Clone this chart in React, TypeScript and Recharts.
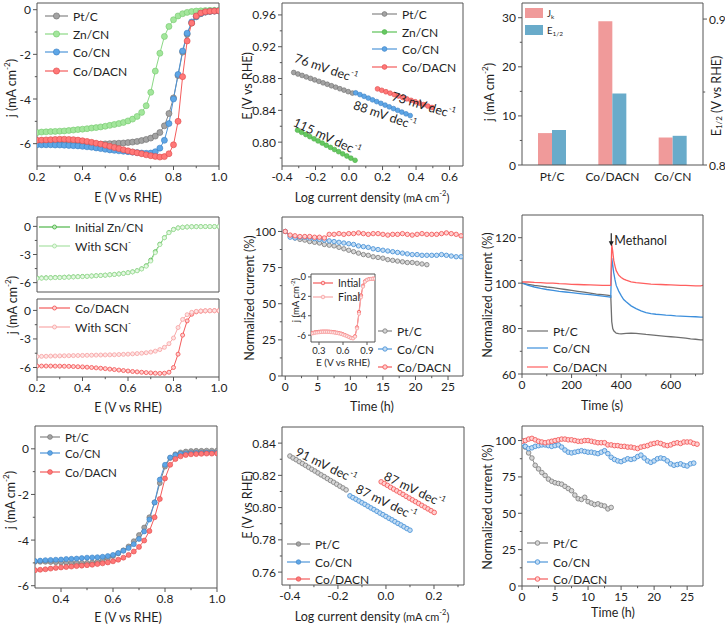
import React from 'react';
import { LineChart, Line, XAxis, YAxis, BarChart, Bar, ReferenceDot } from 'recharts';

const FONT = 'Lato, "Open Sans", Arial, sans-serif';
const INK = '#1f1f1f';
const FRAME = '#555';

// ---------- data ----------
// LSV potential grid (V vs RHE)
const E_GRID = [0.2, 0.22, 0.24, 0.26, 0.28, 0.3, 0.32, 0.34, 0.36, 0.38, 0.4, 0.42, 0.44, 0.46, 0.48, 0.5, 0.52, 0.54, 0.56, 0.58, 0.6, 0.62, 0.64, 0.66, 0.68, 0.7, 0.72, 0.74, 0.76, 0.78, 0.8, 0.82, 0.84, 0.86, 0.88, 0.9, 0.92, 0.94, 0.96, 0.98, 1.0];

// panel a: ORR LSV (mA cm-2)
const A_PTC = [-6.02, -6.02, -6.02, -6.02, -6.02, -6.02, -6.02, -6.02, -6.02, -6.02, -6.02, -6.02, -6.02, -6.02, -6.02, -6.01, -6.0, -5.99, -5.98, -5.97, -5.95, -5.93, -5.9, -5.86, -5.81, -5.75, -5.66, -5.5, -5.2, -4.65, -3.95, -2.95, -1.9, -1.1, -0.6, -0.32, -0.18, -0.11, -0.08, -0.06, -0.05];
const A_ZNCN = [-5.5, -5.48, -5.47, -5.46, -5.45, -5.44, -5.43, -5.41, -5.39, -5.37, -5.35, -5.33, -5.3, -5.28, -5.25, -5.22, -5.18, -5.14, -5.1, -5.05, -4.98, -4.9, -4.78, -4.6, -4.3, -3.7, -2.75, -1.95, -1.2, -0.75, -0.45, -0.28, -0.18, -0.12, -0.08, -0.06, -0.05, -0.04, -0.03, -0.03, -0.03];
const A_COCN = [-6.05, -6.05, -6.05, -6.05, -6.06, -6.06, -6.07, -6.08, -6.09, -6.1, -6.12, -6.14, -6.16, -6.19, -6.22, -6.25, -6.28, -6.3, -6.32, -6.34, -6.36, -6.38, -6.4, -6.42, -6.43, -6.42, -6.36, -6.2, -5.85, -5.1, -4.0, -2.9, -1.85, -1.05, -0.55, -0.3, -0.17, -0.1, -0.07, -0.06, -0.05];
const A_CODACN = [-5.85, -5.84, -5.83, -5.82, -5.81, -5.8, -5.8, -5.81, -5.82, -5.84, -5.87, -5.9, -5.94, -5.98, -6.02, -6.07, -6.12, -6.17, -6.22, -6.27, -6.32, -6.37, -6.41, -6.45, -6.5, -6.54, -6.57, -6.6, -6.58, -6.45, -6.05, -5.0, -3.0, -1.4, -0.6, -0.28, -0.15, -0.09, -0.07, -0.06, -0.05];

// panel b: Tafel (log j, E)
const B_PTC_X = [-0.33, -0.305, -0.28, -0.255, -0.23, -0.205, -0.18, -0.155, -0.13, -0.105, -0.08, -0.055, -0.03, -0.005, 0.02];
const B_PTC_Y = [0.8876, 0.8857, 0.8839, 0.882, 0.8802, 0.8783, 0.8765, 0.8746, 0.8728, 0.8709, 0.8691, 0.8672, 0.8654, 0.8635, 0.8617];
const B_ZN_X = [-0.307, -0.283, -0.258, -0.234, -0.209, -0.185, -0.16, -0.136, -0.111, -0.087, -0.062, -0.038, -0.013, 0.011, 0.036];
const B_ZN_Y = [0.815, 0.8123, 0.8096, 0.8069, 0.8042, 0.8015, 0.7988, 0.7961, 0.7934, 0.7907, 0.788, 0.7853, 0.7826, 0.7799, 0.7772];
const B_CO_X = [0.04, 0.065, 0.09, 0.115, 0.14, 0.165, 0.19, 0.215, 0.24, 0.265, 0.29, 0.315, 0.34, 0.365];
const B_CO_Y = [0.862, 0.8598, 0.8576, 0.8554, 0.8532, 0.851, 0.8488, 0.8466, 0.8444, 0.8422, 0.84, 0.8378, 0.8356, 0.8334];
const B_DA_X = [0.17, 0.195, 0.22, 0.245, 0.27, 0.295, 0.32, 0.345, 0.37, 0.395, 0.42, 0.445, 0.47, 0.495];
const B_DA_Y = [0.867, 0.8652, 0.8634, 0.8616, 0.8598, 0.858, 0.8562, 0.8544, 0.8526, 0.8508, 0.849, 0.8472, 0.8454, 0.8436];
const B_SLOPES = ['76', '88', '73', '115'];

// panel c: kinetic current and half-wave potential
const C_CATS = ['Pt/C', 'Co/DACN', 'Co/CN'];
const C_JK = [6.5, 29.3, 5.6];
const C_E12 = [0.824, 0.849, 0.82];

// panel d: SCN- poisoning
const D_ZN_INIT = [-5.52, -5.5, -5.48, -5.47, -5.45, -5.44, -5.42, -5.4, -5.38, -5.36, -5.34, -5.32, -5.29, -5.26, -5.23, -5.2, -5.16, -5.12, -5.07, -5.01, -4.94, -4.85, -4.72, -4.52, -4.2, -3.6, -2.7, -1.9, -1.2, -0.65, -0.32, -0.16, -0.09, -0.06, -0.04, -0.03, -0.02, -0.02, -0.02, -0.02, -0.02];
const D_ZN_SCN = [-5.55, -5.53, -5.51, -5.49, -5.47, -5.46, -5.44, -5.42, -5.4, -5.38, -5.36, -5.33, -5.3, -5.27, -5.24, -5.21, -5.17, -5.13, -5.08, -5.02, -4.95, -4.86, -4.74, -4.55, -4.25, -3.7, -2.8, -1.95, -1.22, -0.68, -0.34, -0.17, -0.1, -0.06, -0.04, -0.03, -0.03, -0.02, -0.02, -0.02, -0.02];
const D_DA = [-5.85, -5.85, -5.85, -5.85, -5.86, -5.86, -5.87, -5.88, -5.9, -5.92, -5.94, -5.97, -6.0, -6.04, -6.08, -6.12, -6.17, -6.22, -6.27, -6.32, -6.37, -6.42, -6.46, -6.5, -6.54, -6.57, -6.6, -6.62, -6.6, -6.5, -6.0, -4.6, -2.6, -1.1, -0.4, -0.15, -0.08, -0.05, -0.04, -0.03, -0.03];
const D_DA_SCN = [-4.85, -4.83, -4.82, -4.8, -4.79, -4.78, -4.77, -4.76, -4.75, -4.74, -4.73, -4.72, -4.71, -4.7, -4.69, -4.68, -4.67, -4.66, -4.64, -4.62, -4.6, -4.57, -4.54, -4.5, -4.45, -4.38, -4.28, -4.12, -3.88, -3.5, -2.9, -1.8, -0.95, -0.45, -0.2, -0.1, -0.06, -0.04, -0.03, -0.03, -0.03];

// panel e: stability in alkaline (h, %)
const T_E = [0, 0.75, 1.5, 2.25, 3, 3.75, 4.5, 5.25, 6, 6.75, 7.5, 8.25, 9, 9.75, 10.5, 11.25, 12, 12.75, 13.5, 14.25, 15, 15.75, 16.5, 17.25, 18, 18.75, 19.5, 20.25, 21, 21.75, 22.5, 23.25, 24, 24.75, 25.5, 26.25, 27];
const E_PTC = [100, 97, 95.5, 94.5, 94, 93, 92.5, 92, 91, 90.5, 90, 89, 88, 87, 86, 85, 84, 83.5, 82.5, 82, 81.5, 80.5, 80, 79.5, 79, 78.5, 78.5, 78, 77.5, 77];
const E_COCN = [100, 96, 95.5, 96, 96, 95.5, 95, 94.5, 94, 93.5, 93, 92.5, 92, 91.5, 91, 90, 89.5, 89, 88, 87.5, 87, 86.5, 86, 85.5, 85, 84.5, 84, 84, 83.5, 83.5, 83.5, 83.5, 84, 83.5, 83, 82.5, 82.5];
const E_DA = [100, 97.5, 97, 96.5, 96.5, 96.5, 96, 96, 95.5, 98, 98, 98.5, 98, 98.5, 98.5, 99, 98.5, 98, 98.5, 98.5, 98, 97.5, 98, 98, 98.5, 98, 97.5, 98, 98.5, 98, 98, 98, 98.5, 99, 98.5, 98, 97];
// inset
const X_IN = [0.2, 0.225, 0.25, 0.275, 0.3, 0.325, 0.35, 0.375, 0.4, 0.425, 0.45, 0.475, 0.5, 0.525, 0.55, 0.575, 0.6, 0.625, 0.65, 0.675, 0.7, 0.725, 0.75, 0.775, 0.8, 0.825, 0.85, 0.875, 0.9, 0.925, 0.95, 0.975, 1.0];
const IN_INIT = [-5.8, -5.75, -5.7, -5.68, -5.65, -5.63, -5.62, -5.62, -5.62, -5.63, -5.65, -5.67, -5.7, -5.74, -5.78, -5.83, -5.9, -5.98, -6.07, -6.17, -6.27, -6.3, -6.1, -5.2, -3.6, -1.9, -0.9, -0.45, -0.3, -0.22, -0.2, -0.18, -0.17];
const IN_FINAL = [-5.85, -5.8, -5.75, -5.72, -5.7, -5.68, -5.66, -5.66, -5.66, -5.67, -5.69, -5.71, -5.74, -5.78, -5.82, -5.87, -5.94, -6.02, -6.1, -6.2, -6.3, -6.33, -6.15, -5.3, -3.8, -2.1, -1.0, -0.5, -0.32, -0.24, -0.21, -0.19, -0.18];

// panel f: methanol tolerance (s, %)
const T_F = [0, 25, 50, 75, 100, 125, 150, 175, 200, 225, 250, 275, 300, 325, 350, 358, 362, 366, 370, 375, 380, 390, 400, 410, 420, 440, 460, 480, 500, 520, 540, 560, 580, 600, 620, 640, 660, 680, 700, 720, 730];
const F_PTC = [100, 99.5, 99, 98.7, 98.3, 98, 97.6, 97.2, 96.8, 96.4, 96, 95.6, 95.2, 94.9, 94.6, 94.4, 83, 80, 79, 78.5, 78, 77.8, 77.7, 77.8, 77.9, 78, 77.9, 77.7, 77.4, 77.2, 77, 76.8, 76.6, 76.4, 76.2, 76, 75.8, 75.5, 75.3, 75, 75];
const F_COCN = [100, 99, 98.3, 97.7, 97.2, 96.8, 96.4, 96.1, 95.8, 95.5, 95.2, 94.9, 94.6, 94.3, 94, 93.8, 111, 108, 104.5, 101.5, 99, 96.5, 94.5, 92.8, 91.8, 90, 88.8, 87.8, 87, 86.6, 86.3, 86.1, 85.9, 85.8, 85.6, 85.5, 85.4, 85.3, 85.2, 85, 85];
const F_CODACN = [100.5, 100.5, 100.3, 100.2, 100, 100, 99.8, 99.7, 99.5, 99.4, 99.3, 99.2, 99.1, 99, 99, 99, 117, 114, 110, 107.5, 105.5, 103.5, 102.5, 101.8, 101.3, 100.6, 100.2, 100, 99.8, 99.6, 99.5, 99.4, 99.3, 99.2, 99.1, 99, 99, 98.9, 98.8, 98.8, 99];
const F_INJECT = 360;

// panel g: acidic LSV
const X_G = [0.3, 0.32, 0.34, 0.36, 0.38, 0.4, 0.42, 0.44, 0.46, 0.48, 0.5, 0.52, 0.54, 0.56, 0.58, 0.6, 0.62, 0.64, 0.66, 0.68, 0.7, 0.72, 0.74, 0.76, 0.78, 0.8, 0.82, 0.84, 0.86, 0.88, 0.9, 0.92, 0.94, 0.96, 0.98, 1.0];
const G_PTC = [-4.95, -4.95, -4.95, -4.96, -4.97, -4.98, -4.99, -5.0, -5.0, -5.0, -5.0, -4.98, -4.95, -4.88, -4.8, -4.7, -4.58, -4.45, -4.28, -4.05, -3.78, -3.45, -3.0, -2.35, -1.5, -0.78, -0.4, -0.24, -0.16, -0.12, -0.1, -0.09, -0.09, -0.08, -0.08, -0.08];
const G_COCN = [-4.92, -4.9, -4.88, -4.87, -4.86, -4.85, -4.83, -4.82, -4.81, -4.79, -4.77, -4.76, -4.75, -4.73, -4.7, -4.65, -4.57, -4.47, -4.35, -4.18, -3.95, -3.62, -3.1, -2.35, -1.35, -0.7, -0.38, -0.27, -0.22, -0.2, -0.19, -0.18, -0.18, -0.17, -0.17, -0.17];
const G_DA = [-5.32, -5.3, -5.28, -5.25, -5.22, -5.2, -5.18, -5.16, -5.14, -5.12, -5.1, -5.08, -5.05, -5.02, -4.98, -4.93, -4.86, -4.77, -4.65, -4.5, -4.3, -4.02, -3.6, -3.0, -2.2, -1.3, -0.7, -0.45, -0.33, -0.27, -0.24, -0.23, -0.22, -0.21, -0.21, -0.2];

// panel h: acidic Tafel
const H_PTC_X = [-0.4, -0.387, -0.374, -0.361, -0.348, -0.335, -0.322, -0.309, -0.296, -0.283, -0.27, -0.257, -0.244, -0.231, -0.218, -0.205, -0.192, -0.179, -0.166];
const H_PTC_Y = [0.832, 0.8308, 0.8297, 0.8285, 0.8273, 0.8262, 0.825, 0.8238, 0.8227, 0.8215, 0.8203, 0.8192, 0.818, 0.8168, 0.8157, 0.8145, 0.8133, 0.8122, 0.811];
const H_CO_X = [-0.15, -0.1375, -0.125, -0.1125, -0.1, -0.0875, -0.075, -0.0625, -0.05, -0.0375, -0.025, -0.0125, 0, 0.0125, 0.025, 0.0375, 0.05, 0.0625, 0.075, 0.0875, 0.1];
const H_CO_Y = [0.8073, 0.8062, 0.8052, 0.8041, 0.803, 0.802, 0.8009, 0.7998, 0.7988, 0.7977, 0.7966, 0.7956, 0.7945, 0.7934, 0.7924, 0.7913, 0.7902, 0.7892, 0.7881, 0.787, 0.786];
const H_DA_X = [-0.02, -0.007, 0.006, 0.019, 0.032, 0.045, 0.058, 0.071, 0.084, 0.097, 0.11, 0.123, 0.136, 0.149, 0.162, 0.175, 0.188, 0.201];
const H_DA_Y = [0.816, 0.8149, 0.8138, 0.8126, 0.8115, 0.8104, 0.8093, 0.8082, 0.807, 0.8059, 0.8048, 0.8037, 0.8026, 0.8014, 0.8003, 0.7992, 0.7981, 0.797];
const H_SLOPES = ['91', '87', '87'];

// panel i: acidic stability (h, %)
const T_I = [0, 0.5, 1, 1.5, 2, 2.5, 3, 3.5, 4, 4.5, 5, 5.5, 6, 6.5, 7, 7.5, 8, 8.5, 9, 9.5, 10, 10.5, 11, 11.5, 12, 12.5, 13, 13.5, 14, 14.5, 15, 15.5, 16, 16.5, 17, 17.5, 18, 18.5, 19, 19.5, 20, 20.5, 21, 21.5, 22, 22.5, 23, 23.5, 24, 24.5, 25, 25.5, 26, 26.5];
const I_PTC = [100, 95.5, 91.5, 88, 83, 80.5, 78, 76, 73.5, 72, 71, 70.5, 70, 68.5, 67, 65.5, 62.5, 60, 59.5, 61, 58, 57, 56, 56.5, 55.5, 55, 53, 54];
const I_COCN = [98, 96, 94.5, 95, 96, 96.5, 97, 97, 96.5, 96, 96.5, 97, 95.5, 93.5, 92, 91.5, 92, 92.5, 93, 92.5, 92, 92, 91.5, 91, 92, 93, 91, 88.5, 87, 86, 85.5, 86.5, 87.5, 87, 87.5, 89, 90, 88, 86, 85, 86, 87.5, 88, 87.5, 86, 84, 83, 83.5, 84, 83, 82.5, 84, 84.5];
const I_DA = [99.5, 100, 101, 101.5, 100.5, 99.5, 99, 98.5, 99, 99.5, 100, 100.5, 101, 101, 100.5, 100.5, 100, 99.5, 99.5, 100, 100, 99.5, 99, 98.5, 98.5, 98.5, 97, 97, 96.5, 96.5, 96, 96, 95.5, 95.5, 95, 94.5, 95.5, 96, 96.5, 97.5, 98, 98.5, 98, 97, 96.5, 97, 98, 98.5, 98, 99, 99, 99, 98, 97.5];

// tick values
const LSV_XT = [0.2, 0.4, 0.6, 0.8, 1.0];
const LSV_XM = [0.3, 0.5, 0.7, 0.9];
const A_YT = [-6, -4, -2, 0];
const A_YM = [-5, -3, -1];
const B_XT = [-0.4, -0.2, 0, 0.2, 0.4, 0.6];
const B_XM = [-0.3, -0.1, 0.1, 0.3, 0.5];
const B_YT = [0.8, 0.84, 0.88, 0.92, 0.96];
const B_YM = [0.78, 0.82, 0.86, 0.9, 0.94];
const C_YT = [0, 10, 20, 30];
const C_YM = [5, 15, 25];
const C_RT = [0.8, 0.9];
const C_RM = [0.85];
const D_YT = [-6, -3, 0];
const D_YM = [-4.5, -1.5];
const H24_XT = [0, 5, 10, 15, 20, 25];
const H24_XM = [2.5, 7.5, 12.5, 17.5, 22.5];
const PCT_YT = [0, 25, 50, 75, 100];
const PCT_YM = [12.5, 37.5, 62.5, 87.5];
const IN_XT = [0.3, 0.6, 0.9];
const IN_YT = [-6, -4, -2, 0];
const F_XT = [0, 200, 400, 600];
const F_XM = [100, 300, 500, 700];
const F_YT = [60, 80, 100, 120];
const F_YM = [70, 90, 110];
const G_XT = [0.4, 0.6, 0.8, 1.0];
const G_XM = [0.5, 0.7, 0.9];
const H_XT = [-0.4, -0.2, 0, 0.2];
const H_XM = [-0.3, -0.1, 0.1, 0.3];
const H_YT = [0.76, 0.78, 0.8, 0.82, 0.84];
const H_YM = [0.77, 0.79, 0.81, 0.83];

// ---------- styles ----------
type Sty = { stroke: string; fill: string; edge: string; soft: string };
const PT: Sty = { stroke: '#858585', fill: '#a3a3a3', edge: '#6d6d6d', soft: '#d6d6d6' };
const ZN: Sty = { stroke: '#8bd985', fill: '#a3e69c', edge: '#72c86b', soft: '#d6f3d2' };
const ZN_B: Sty = { stroke: '#5cc257', fill: '#66c861', edge: '#4caf47', soft: '#c9eec6' };
const CO: Sty = { stroke: '#4d95d9', fill: '#5ea6e6', edge: '#3a7fc3', soft: '#c3dcf3' };
const DA: Sty = { stroke: '#f45c5c', fill: '#ff7878', edge: '#de4848', soft: '#ffd0d0' };
const ZN_DARK: Sty = { stroke: '#4fb64a', fill: '#74cc6f', edge: '#3f9e3a', soft: '#c3eac0' };
const ZN_LIGHT: Sty = { stroke: '#a9e2a4', fill: '#bdeab8', edge: '#94d68e', soft: '#e6f8e4' };
const PINK: Sty = { stroke: '#f8a8a8', fill: '#fbbdbd', edge: '#f29292', soft: '#fde4e4' };
const JK_COLOR = '#f09a9a';
const E12_COLOR = '#69abca';
const LINE_PT = '#6f6f6f';
const LINE_CO = '#3d8fdc';
const LINE_DA = '#ff5f5f';

const pts = (xs: number[], ys: number[]) => ys.map((y, i) => ({ x: xs[i], y }));
const f1 = (v: number) => v.toFixed(1);
const f2 = (v: number) => v.toFixed(2);
const fi = (v: number) => String(Math.round(v));
const isMajor = (list: number[], v: number) => list.some((m) => Math.abs(m - v) < 1e-7);

function series(key: string, data: { x: number; y: number }[], s: Sty, r: number, hollow = false, w = 1) {
  return (
    <Line
      key={key}
      data={data}
      dataKey="y"
      type="linear"
      stroke={s.stroke}
      strokeWidth={w}
      dot={r > 0 ? { r, fill: hollow ? s.soft : s.fill, stroke: hollow ? s.stroke : s.edge, strokeWidth: hollow ? 0.9 : 0.6 } : false}
      activeDot={false}
      isAnimationActive={false}
    />
  );
}

function plain(key: string, data: { x: number; y: number }[], color: string) {
  return <Line key={key} data={data} dataKey="y" type="linear" stroke={color} strokeWidth={1.3} dot={false} activeDot={false} isAnimationActive={false} />;
}

const bottomTick = (major: number[], fmt: (v: number) => string, fs: number, len: number) => (p: any) => {
  const v = p.payload.value as number;
  const m = isMajor(major, v);
  const ay = p.y - len - 2;
  return (
    <g>
      <line x1={p.x} x2={p.x} y1={ay} y2={ay + (m ? len : len * 0.55)} stroke={FRAME} />
      {m ? (
        <text x={p.x} y={ay + len + 1.5} textAnchor="middle" dominantBaseline="hanging" fontSize={fs} fontFamily={FONT} fill={INK}>
          {fmt(v)}
        </text>
      ) : null}
    </g>
  );
};

const leftTick = (major: number[], fmt: (v: number) => string, fs: number, len: number) => (p: any) => {
  const v = p.payload.value as number;
  const m = isMajor(major, v);
  const ax = p.x + len + 2;
  return (
    <g>
      <line x1={ax} x2={ax - (m ? len : len * 0.55)} y1={p.y} y2={p.y} stroke={FRAME} />
      {m ? (
        <text x={ax - len - 2} y={p.y} textAnchor="end" dominantBaseline="central" fontSize={fs} fontFamily={FONT} fill={INK}>
          {fmt(v)}
        </text>
      ) : null}
    </g>
  );
};

const rightTick = (major: number[], fmt: (v: number) => string, fs: number, len: number) => (p: any) => {
  const v = p.payload.value as number;
  const m = isMajor(major, v);
  const ax = p.x - len - 2;
  return (
    <g>
      <line x1={ax} x2={ax + (m ? len : len * 0.55)} y1={p.y} y2={p.y} stroke={FRAME} />
      {m ? (
        <text x={ax + len + 2} y={p.y} textAnchor="start" dominantBaseline="central" fontSize={fs} fontFamily={FONT} fill={INK}>
          {fmt(v)}
        </text>
      ) : null}
    </g>
  );
};

type Ax = { d: [number, number]; major: number[]; minor?: number[]; fmt: (v: number) => string };
type PanelProps = { box: [number, number, number, number]; x: Ax; y: Ax; fs?: number; len?: number; xTicks?: boolean; lw?: number; z?: number; children?: React.ReactNode };

function Panel({ box, x, y, fs = 12, len = 4, xTicks = true, lw = 40, z = 1, children }: PanelProps) {
  const [x0, y0, x1, y1] = box;
  const T = 6, R = 14, B = 26;
  return (
    <div style={{ position: 'absolute', left: x0 - lw, top: y0 - T, zIndex: z }}>
      <LineChart width={x1 - x0 + lw + R} height={y1 - y0 + T + B} margin={{ top: T, right: R, bottom: 0, left: 0 }}>
        <XAxis
          dataKey="x"
          type="number"
          domain={x.d}
          allowDataOverflow
          height={B}
          ticks={[...x.major, ...(x.minor ?? [])]}
          interval={0}
          tickSize={len}
          tickMargin={2}
          tickLine={false}
          axisLine={{ stroke: FRAME }}
          tick={xTicks ? bottomTick(x.major, x.fmt, fs, len) : false}
        />
        <YAxis
          type="number"
          domain={y.d}
          allowDataOverflow
          width={lw}
          ticks={[...y.major, ...(y.minor ?? [])]}
          interval={0}
          tickSize={len}
          tickMargin={2}
          tickLine={false}
          axisLine={{ stroke: FRAME }}
          tick={leftTick(y.major, y.fmt, fs, len)}
        />
        <XAxis xAxisId="top" orientation="top" mirror type="number" domain={[0, 1]} tick={false} tickLine={false} axisLine={{ stroke: FRAME }} />
        <YAxis yAxisId="right" orientation="right" mirror type="number" domain={[0, 1]} tick={false} tickLine={false} axisLine={{ stroke: FRAME }} />
        {children}
      </LineChart>
    </div>
  );
}

const slope = (v: string, angle: number, fs = 12.5) => (p: any) => (
  <text x={p.cx} y={p.cy} transform={`rotate(${angle} ${p.cx} ${p.cy})`} textAnchor="middle" dominantBaseline="central" fontSize={fs} fontFamily={FONT} fill={INK}>
    {v} mV dec<tspan dy={-5} fontSize={fs * 0.62}>-1</tspan>
  </text>
);

const methanolArrow = (p: any) => (
  <g>
    <line x1={p.cx} x2={p.cx} y1={p.cy} y2={p.cy + 9} stroke="#222" strokeWidth={1.2} />
    <path d={`M${p.cx - 2.5},${p.cy + 8} L${p.cx + 2.5},${p.cy + 8} L${p.cx},${p.cy + 13} Z`} fill="#222" />
    <text x={p.cx + 3} y={p.cy + 7} dominantBaseline="central" fontSize={12.5} fontFamily={FONT} fill={INK}>
      Methanol
    </text>
  </g>
);

function PanelC() {
  const lw = 34, rw = 30, T = 6, B = 26;
  const [x0, y0, x1, y1] = [522, 3, 703, 165];
  const rows = C_CATS.map((name, i) => ({ name, jk: C_JK[i], e: C_E12[i] }));
  const catTick = (p: any) => (
    <text x={p.x} y={p.y} textAnchor="middle" dominantBaseline="hanging" fontSize={12} fontFamily={FONT} fill={INK}>
      {p.payload.value}
    </text>
  );
  return (
    <div style={{ position: 'absolute', left: x0 - lw, top: y0 - T }}>
      <BarChart width={x1 - x0 + lw + rw} height={y1 - y0 + T + B} data={rows} margin={{ top: T, right: 0, bottom: 0, left: 0 }} barGap={0}>
        <XAxis dataKey="name" height={B} tickSize={4} tickMargin={2} tickLine={false} axisLine={{ stroke: FRAME }} tick={catTick} interval={0} />
        <XAxis xAxisId="top" dataKey="name" orientation="top" mirror tick={false} tickLine={false} axisLine={{ stroke: FRAME }} />
        <YAxis yAxisId="l" type="number" domain={[0, 33]} allowDataOverflow width={lw} ticks={[...C_YT, ...C_YM]} interval={0} tickSize={4} tickMargin={2} tickLine={false} axisLine={{ stroke: FRAME }} tick={leftTick(C_YT, fi, 12, 4)} />
        <YAxis yAxisId="r" orientation="right" type="number" domain={[0.8, 0.911]} allowDataOverflow width={rw} ticks={[...C_RT, ...C_RM]} interval={0} tickSize={4} tickMargin={2} tickLine={false} axisLine={{ stroke: FRAME }} tick={rightTick(C_RT, f1, 12, 4)} />
        <Bar yAxisId="l" dataKey="jk" fill={JK_COLOR} barSize={14} isAnimationActive={false} />
        <Bar yAxisId="r" dataKey="e" fill={E12_COLOR} barSize={14} isAnimationActive={false} />
      </BarChart>
    </div>
  );
}

// ---------- overlay text ----------
const YT = ({ x, y, fs = 12.5, children }: { x: number; y: number; fs?: number; children: React.ReactNode }) => (
  <text transform={`translate(${x} ${y}) rotate(-90)`} textAnchor="middle" dominantBaseline="central" fontSize={fs}>
    {children}
  </text>
);
const XT = ({ x, y, fs = 12.5, children }: { x: number; y: number; fs?: number; children: React.ReactNode }) => (
  <text x={x} y={y} textAnchor="middle" dominantBaseline="central" fontSize={fs}>
    {children}
  </text>
);
const jUnit = (fs = 12.5) => (
  <>
    j (mA cm<tspan dy={-fs * 0.35} fontSize={fs * 0.65}>-2</tspan>
    <tspan dy={fs * 0.35}>)</tspan>
  </>
);
const logUnit = (
  <>
    Log current density <tspan fontSize={11}>(mA cm</tspan>
    <tspan fontSize={7.5} dy={-4}>-2</tspan>
    <tspan fontSize={11} dy={4}>)</tspan>
  </>
);
const scn = (
  <>
    With SCN<tspan dy={-4} fontSize={8}>-</tspan>
  </>
);

type LegItem = { label: React.ReactNode; s: Sty | null; color?: string };
function Legend({ x, w, rows, items, r, fs = 12, hollow = false }: { x: number; w: number; rows: number[]; items: LegItem[]; r: number; fs?: number; hollow?: boolean }) {
  return (
    <g>
      {items.map((it, i) => {
        const st = it.s;
        const col = st ? st.stroke : it.color!;
        return (
          <g key={i}>
            <line x1={x} x2={x + w} y1={rows[i]} y2={rows[i]} stroke={col} strokeWidth={1.2} />
            {st && r > 0 ? <circle cx={x + w / 2} cy={rows[i]} r={r} fill={hollow ? st.soft : st.fill} stroke={hollow ? st.stroke : st.edge} strokeWidth={hollow ? 0.9 : 0.6} /> : null}
            <text x={x + w + 5} y={rows[i]} dominantBaseline="central" fontSize={fs}>
              {it.label}
            </text>
          </g>
        );
      })}
    </g>
  );
}

function Overlay() {
  return (
    <svg width={725} height={624} style={{ position: 'absolute', left: 0, top: 0, zIndex: 10, pointerEvents: 'none' }} fontFamily={FONT} fill={INK}>
      {/* a */}
      <YT x={11} y={88}>{jUnit()}</YT>
      <XT x={128} y={197}>E (V vs RHE)</XT>
      <Legend x={45} w={23} rows={[16, 34, 52, 71]} r={3.1} items={[{ label: 'Pt/C', s: PT }, { label: 'Zn/CN', s: ZN }, { label: 'Co/CN', s: CO }, { label: 'Co/DACN', s: DA }]} />
      {/* b */}
      <YT x={247} y={86}>E (V vs RHE)</YT>
      <XT x={372} y={197}>{logUnit}</XT>
      <Legend x={372} w={25} rows={[14, 32, 49, 67]} r={2.4} items={[{ label: 'Pt/C', s: PT }, { label: 'Zn/CN', s: ZN_B }, { label: 'Co/CN', s: CO }, { label: 'Co/DACN', s: DA }]} />
      {/* c */}
      <YT x={489} y={92}>{jUnit()}</YT>
      <YT x={716} y={96}>
        E<tspan fontSize={8} dy={3}>1/2</tspan>
        <tspan dy={-3}> (V vs RHE)</tspan>
      </YT>
      <rect x={525} y={8} width={18} height={10} fill={JK_COLOR} />
      <text x={547} y={13} dominantBaseline="central" fontSize={9.5}>
        J<tspan dy={2.5} fontSize={6.5}>k</tspan>
      </text>
      <rect x={525} y={25} width={18} height={10} fill={E12_COLOR} />
      <text x={547} y={30} dominantBaseline="central" fontSize={9.5}>
        E<tspan dy={2.5} fontSize={6.5}>1/2</tspan>
      </text>
      {/* d */}
      <YT x={12} y={305}>{jUnit()}</YT>
      <XT x={128} y={407}>E (V vs RHE)</XT>
      <Legend x={39} w={31} rows={[227, 246]} r={2} hollow items={[{ label: 'Initial Zn/CN', s: ZN_DARK }, { label: scn, s: ZN_LIGHT }]} />
      <Legend x={39} w={31} rows={[308, 327]} r={2} hollow items={[{ label: 'Co/DACN', s: DA }, { label: scn, s: PINK }]} />
      {/* e */}
      <YT x={249} y={298}>Normalized current (%)</YT>
      <XT x={372} y={406}>Time (h)</XT>
      <Legend x={378} w={14} rows={[331, 349, 367]} r={2.2} hollow items={[{ label: 'Pt/C', s: PT }, { label: 'Co/CN', s: CO }, { label: 'Co/DACN', s: DA }]} />
      <YT x={295} y={300} fs={9.5}>{jUnit(9.5)}</YT>
      <XT x={343} y={362} fs={10}>E (V vs RHE)</XT>
      <Legend x={313} w={20} rows={[283, 297]} r={1.8} fs={10.5} hollow items={[{ label: 'Intial', s: DA }, { label: 'Final', s: PINK }]} />
      {/* f */}
      <YT x={487} y={295}>Normalized current (%)</YT>
      <XT x={602} y={405}>Time (s)</XT>
      <Legend x={527} w={21} rows={[331, 348, 367]} r={0} items={[{ label: 'Pt/C', s: null, color: LINE_PT }, { label: 'Co/CN', s: null, color: LINE_CO }, { label: 'Co/DACN', s: null, color: LINE_DA }]} />
      {/* g */}
      <YT x={10} y={500}>{jUnit()}</YT>
      <XT x={128} y={617}>E (V vs RHE)</XT>
      <Legend x={40} w={20} rows={[437, 453, 472]} r={2.4} fs={11.5} items={[{ label: 'Pt/C', s: PT }, { label: 'Co/CN', s: CO }, { label: 'Co/DACN', s: DA }]} />
      {/* h */}
      <YT x={247} y={505}>E (V vs RHE)</YT>
      <XT x={372} y={616}>{logUnit}</XT>
      <Legend x={287} w={23} rows={[544, 562, 579]} r={2.3} items={[{ label: 'Pt/C', s: PT }, { label: 'Co/CN', s: CO }, { label: 'Co/DACN', s: DA }]} />
      {/* i */}
      <YT x={487} y={507}>Normalized current (%)</YT>
      <XT x={613} y={612}>Time (h)</XT>
      <Legend x={527} w={21} rows={[543, 562, 579]} r={2.3} hollow items={[{ label: 'Pt/C', s: PT }, { label: 'Co/CN', s: CO }, { label: 'Co/DACN', s: DA }]} />
    </svg>
  );
}

export default function App() {
  return (
    <div style={{ position: 'absolute', left: 0, top: 0, width: 725, height: 624, background: '#fff', overflow: 'hidden', fontFamily: FONT }}>
      {/* a */}
      <Panel box={[37, 3, 219, 166]} x={{ d: [0.2, 1.0], major: LSV_XT, minor: LSV_XM, fmt: f1 }} y={{ d: [-7, 0.3], major: A_YT, minor: A_YM, fmt: fi }}>
        {series('pt', pts(E_GRID, A_PTC), PT, 3)}
        {series('zn', pts(E_GRID, A_ZNCN), ZN, 3)}
        {series('co', pts(E_GRID, A_COCN), CO, 3)}
        {series('da', pts(E_GRID, A_CODACN), DA, 3)}
      </Panel>
      {/* b */}
      <Panel box={[282, 3, 463, 166]} x={{ d: [-0.4, 0.68], major: B_XT, minor: B_XM, fmt: f1 }} y={{ d: [0.77, 0.975], major: B_YT, minor: B_YM, fmt: f2 }}>
        {series('pt', pts(B_PTC_X, B_PTC_Y), PT, 2.4)}
        {series('zn', pts(B_ZN_X, B_ZN_Y), ZN_B, 2.4)}
        {series('co', pts(B_CO_X, B_CO_Y), CO, 2.4)}
        {series('da', pts(B_DA_X, B_DA_Y), DA, 2.4)}
        <ReferenceDot x={-0.138} y={0.893} r={0} shape={slope(B_SLOPES[0], 19)} />
        <ReferenceDot x={0.213} y={0.834} r={0} shape={slope(B_SLOPES[1], 19)} />
        <ReferenceDot x={0.445} y={0.8465} r={0} shape={slope(B_SLOPES[2], 17)} />
        <ReferenceDot x={-0.132} y={0.8067} r={0} shape={slope(B_SLOPES[3], 25)} />
      </Panel>
      {/* c */}
      <PanelC />
      {/* d */}
      <Panel box={[37, 217, 219, 292]} xTicks={false} x={{ d: [0.2, 1.0], major: LSV_XT, fmt: f1 }} y={{ d: [-7, 1], major: D_YT, minor: D_YM, fmt: fi }}>
        {series('init', pts(E_GRID, D_ZN_INIT), ZN_DARK, 2, true)}
        {series('scn', pts(E_GRID, D_ZN_SCN), ZN_LIGHT, 2, true)}
      </Panel>
      <Panel box={[37, 299, 219, 377]} x={{ d: [0.2, 1.0], major: LSV_XT, minor: LSV_XM, fmt: f1 }} y={{ d: [-7, 1.2], major: D_YT, minor: D_YM, fmt: fi }}>
        {series('da', pts(E_GRID, D_DA), DA, 2, true)}
        {series('scn', pts(E_GRID, D_DA_SCN), PINK, 2, true)}
      </Panel>
      {/* e */}
      <Panel box={[282, 217, 463, 376]} x={{ d: [-0.5, 27.3], major: H24_XT, minor: H24_XM, fmt: fi }} y={{ d: [0, 110], major: PCT_YT, minor: PCT_YM, fmt: fi }}>
        {series('pt', pts(T_E, E_PTC), PT, 2.2, true)}
        {series('co', pts(T_E, E_COCN), CO, 2.2, true)}
        {series('da', pts(T_E, E_DA), DA, 2.2, true)}
      </Panel>
      <Panel box={[311, 274, 375, 342]} z={3} lw={16} fs={9.5} len={3} x={{ d: [0.2, 1.0], major: IN_XT, fmt: f1 }} y={{ d: [-6.7, 0.3], major: IN_YT, fmt: fi }}>
        {series('init', pts(X_IN, IN_INIT), DA, 1.6, true)}
        {series('final', pts(X_IN, IN_FINAL), PINK, 1.6, true)}
      </Panel>
      {/* f */}
      <Panel box={[522, 215, 703, 374]} x={{ d: [0, 730], major: F_XT, minor: F_XM, fmt: fi }} y={{ d: [60, 130], major: F_YT, minor: F_YM, fmt: fi }}>
        {plain('pt', pts(T_F, F_PTC), LINE_PT)}
        {plain('co', pts(T_F, F_COCN), LINE_CO)}
        {plain('da', pts(T_F, F_CODACN), LINE_DA)}
        <ReferenceDot x={F_INJECT} y={122} r={0} shape={methanolArrow} />
      </Panel>
      {/* g */}
      <Panel box={[35, 426, 217, 588]} x={{ d: [0.3, 1.0], major: G_XT, minor: G_XM, fmt: f1 }} y={{ d: [-6.1, 1], major: A_YT, minor: A_YM, fmt: fi }}>
        {series('pt', pts(X_G, G_PTC), PT, 2.5)}
        {series('co', pts(X_G, G_COCN), CO, 2.5)}
        {series('da', pts(X_G, G_DA), DA, 2.5)}
      </Panel>
      {/* h */}
      <Panel box={[282, 427, 464, 585]} x={{ d: [-0.433, 0.325], major: H_XT, minor: H_XM, fmt: f1 }} y={{ d: [0.752, 0.85], major: H_YT, minor: H_YM, fmt: f2 }}>
        {series('pt', pts(H_PTC_X, H_PTC_Y), PT, 2.3, true)}
        {series('co', pts(H_CO_X, H_CO_Y), CO, 2.3, true)}
        {series('da', pts(H_DA_X, H_DA_Y), DA, 2.3, true)}
        <ReferenceDot x={-0.25} y={0.8262} r={0} shape={slope(H_SLOPES[0], 26)} />
        <ReferenceDot x={0.0} y={0.8033} r={0} shape={slope(H_SLOPES[1], 26)} />
        <ReferenceDot x={0.118} y={0.8112} r={0} shape={slope(H_SLOPES[2], 26)} />
      </Panel>
      {/* i */}
      <Panel box={[522, 426, 703, 586]} x={{ d: [0, 27.4], major: H24_XT, minor: H24_XM, fmt: fi }} y={{ d: [0, 110], major: PCT_YT, minor: PCT_YM, fmt: fi }}>
        {series('pt', pts(T_I, I_PTC), PT, 2.3, true)}
        {series('co', pts(T_I, I_COCN), CO, 2.3, true)}
        {series('da', pts(T_I, I_DA), DA, 2.3, true)}
      </Panel>
      <Overlay />
    </div>
  );
}
